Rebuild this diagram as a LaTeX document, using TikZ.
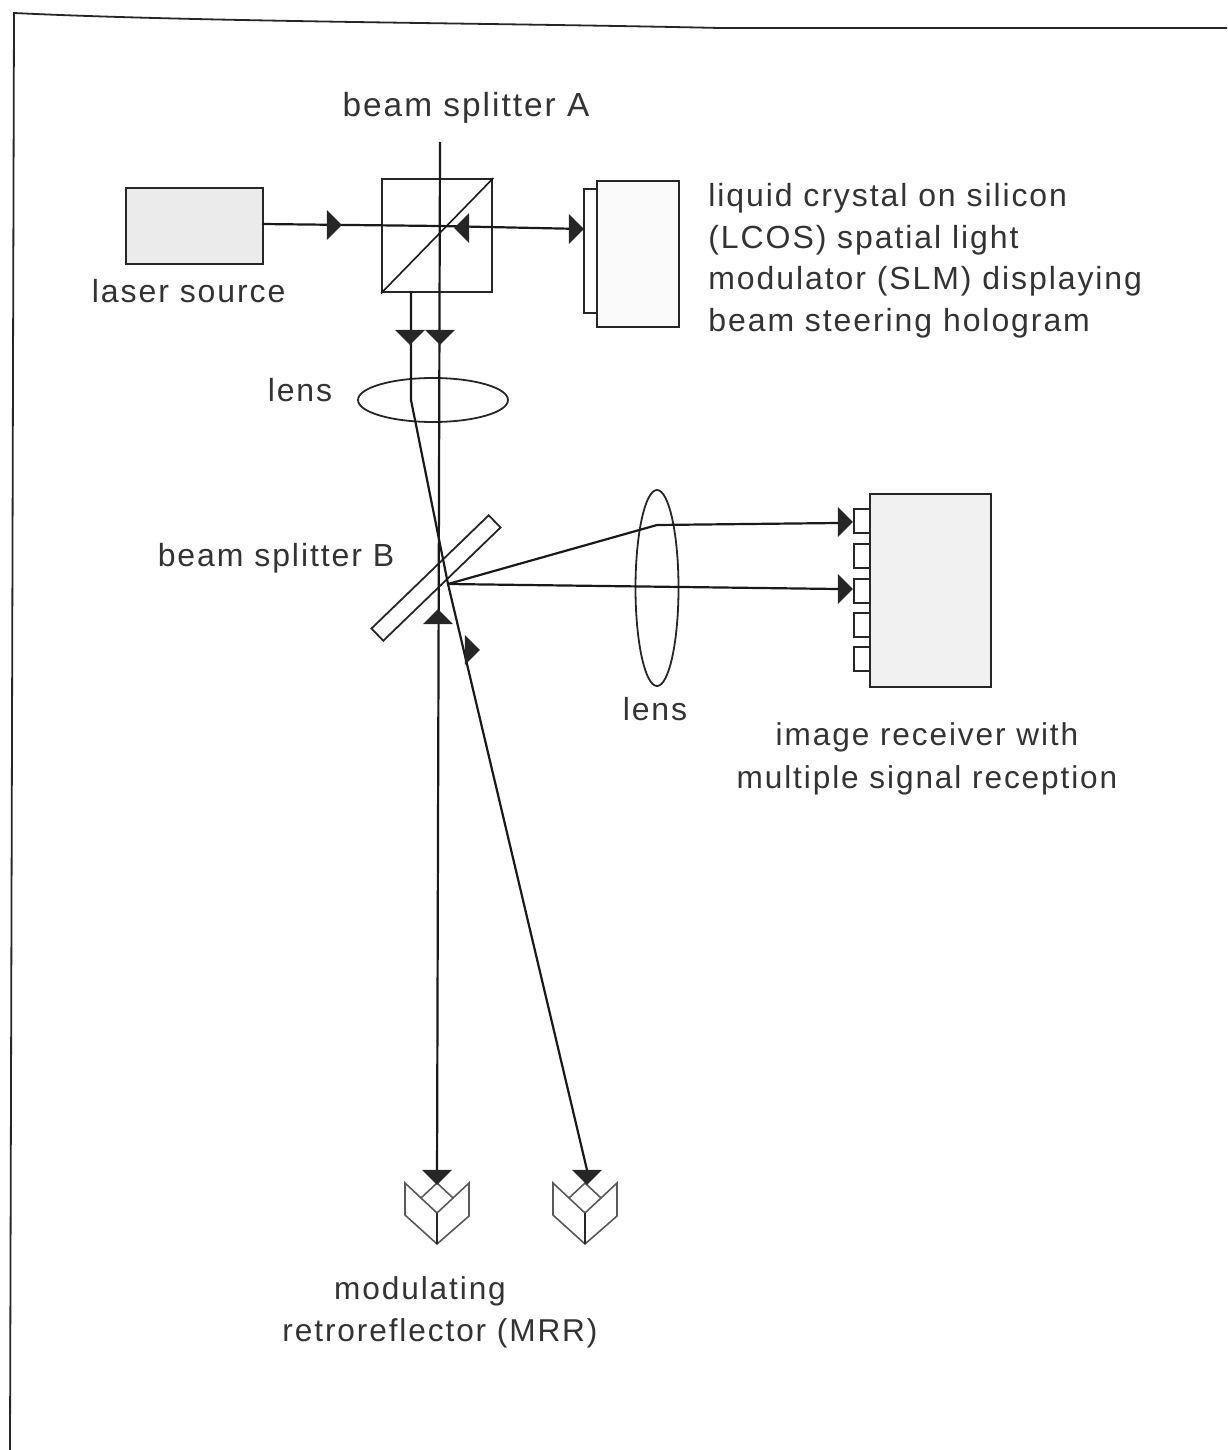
\documentclass[tikz,border=0pt]{standalone}
\usepackage{fontspec}
\setmainfont[LetterSpace=6]{Liberation Sans}
\usetikzlibrary{shapes.geometric, positioning}

\begin{document}
\begin{tikzpicture}[
    x=0.5pt,
    y=-0.5pt,
    box/.style={rectangle, draw=black!85, line width=1.2pt, inner sep=0pt, anchor=north west},
    source/.style={box, fill=black!8},
    port/.style={box, line width=1pt, minimum width=8pt, minimum height=12pt},
    lens/.style={ellipse, draw=black!85, line width=0.9pt, inner sep=0pt},
    beam/.style={draw=black!90, line width=1.1pt},
    wing/.style={draw=black!65, line width=0.8pt},
    tipmark/.style={isosceles triangle, isosceles triangle apex angle=90, fill=black!85, inner sep=0pt, minimum height=7.5pt, minimum width=14pt},
    lbl/.style={font=\fontsize{16}{18}\selectfont, text=black!80, inner sep=0pt}
]

    % Page frame
    \useasboundingbox (0,0) rectangle (1227,1450);
    \coordinate (framebl) at (10,1450);
    \coordinate (frametl) at (14,13);
    \coordinate (framemid) at (720,28);
    \coordinate (frametr) at (1227,28);
    \draw[black!85, line width=0.9pt] (framebl) -- (frametl) .. controls (200,22) and (500,23) .. (framemid) -- (frametr);

    % Laser source
    \node[source, minimum width=68.5pt, minimum height=38pt] (laser) at (125,187) {};
    \node[lbl, below=7pt of laser, xshift=-3pt] (laserlabel) {laser source};

    % Beam splitter A
    \node[box, fill=white, minimum width=55pt, minimum height=56.5pt] (splittera) at (381,178) {};
    \draw[beam, line width=0.8pt] (splittera.south west) -- (splittera.north east);
    \node[lbl, font=\fontsize{16.7}{18}\selectfont] (splitteralabel) at (466,108) {beam splitter A};

    % Spatial light modulator
    \node[box, minimum width=6.5pt, minimum height=62pt] (slmfront) at (583,188) {};
    \node[box, fill=black!2, minimum width=41pt, minimum height=73pt] (slm) at (596,180) {};
    \node[lbl, anchor=north west, align=left, font=\fontsize{16}{20.8}\selectfont] (slmlabel) at (708,183)
        {liquid crystal on silicon\\(LCOS) spatial light\\modulator (SLM) displaying\\beam steering hologram};

    % Lenses
    \node[lens, minimum width=75pt, minimum height=22pt] (lensa) at (433,400) {};
    \node[lbl] (lensalabel) at (300,390) {lens};
    \node[lens, minimum width=21.5pt, minimum height=98pt] (lensb) at (657,588) {};
    \node[lbl] (lensblabel) at (655,709) {lens};

    % Beam splitter B
    \node[rectangle, draw=black!85, line width=0.9pt, rotate=44, minimum width=81.5pt, minimum height=8.5pt, inner sep=0pt] (splitterb) at (436,578) {};
    \node[lbl] (splitterblabel) at (276,558) {beam splitter B};

    % Image receiver
    \node[source, fill=black!6, minimum width=60.5pt, minimum height=96.5pt] (receiver) at (869,493) {};
    \foreach \y/\name in {508/porta, 543/portb, 578/portc, 612/portd, 646/porte}
        \node[port] (\name) at (853,\y) {};
    \node[lbl, align=center, font=\fontsize{15.8}{21.5}\selectfont] (receiverlabel) at (927,759)
        {image receiver with\\multiple signal reception};

    % Retroreflectors
    \foreach \dx/\name in {0/mrra, 148/mrrb} {
        \coordinate (\name top) at (437+\dx,1183);
        \coordinate (\name left) at (421+\dx,1198);
        \coordinate (\name right) at (453+\dx,1198);
        \coordinate (\name mid) at (437+\dx,1213);
        \coordinate (\name base) at (437+\dx,1244);
        \draw[wing] (\name top) -- (\name right) -- (\name mid) -- (\name left) -- cycle;
        \draw[wing] (\name left) -- (405+\dx,1183) -- (405+\dx,1215) -- (\name base) -- (469+\dx,1216) -- (469+\dx,1183) -- (\name right);
        \draw[wing, draw=black!85, line width=1pt] (\name mid) -- (\name base);
    }
    \node[lbl, align=center, font=\fontsize{15.8}{21}\selectfont] (mrrlabel) at (440,1312)
        {modulating\hspace*{20pt}\\retroreflector (MRR)};

    % Beam points
    \coordinate (acrossa) at (440,226);
    \coordinate (splittop) at (440,142);
    \coordinate (splitlow) at (411,291);
    \coordinate (bendb) at (411,400);
    \coordinate (hitb) at (448,584);
    \coordinate (bendup) at (657,525);
    \coordinate (laserout) at (262,224);
    \coordinate (slmin) at (583,229);
    \coordinate (recvup) at (838,523);
    \coordinate (recvlow) at (838,589);
    \coordinate (beamend) at (587,1170);

    % Beams
    \draw[beam] (laserout) -- (acrossa) -- (slmin);
    \draw[beam] (splittop) -- (mrratop);
    \draw[beam] (splitlow) -- (bendb) -- (hitb) -- (beamend);
    \draw[beam] (hitb) -- (bendup) -- (recvup);
    \draw[beam] (hitb) -- (recvlow);

    % Arrowheads
    \foreach \x/\y/\a/\name in {333/225/0/tipa, 463/228/180/tipb, 575/229/0/tipc, 410/336/-90/tipd, 440/336/-90/tipe,
        844/522/0/tipf, 844/589/0/tipg, 438/618/90/tiph, 471/650/0/tipi, 437/1176/-90/tipj, 587/1176/-90/tipk}
        \node[tipmark, rotate=\a] (\name) at (\x,\y) {};

\end{tikzpicture}
\end{document}
